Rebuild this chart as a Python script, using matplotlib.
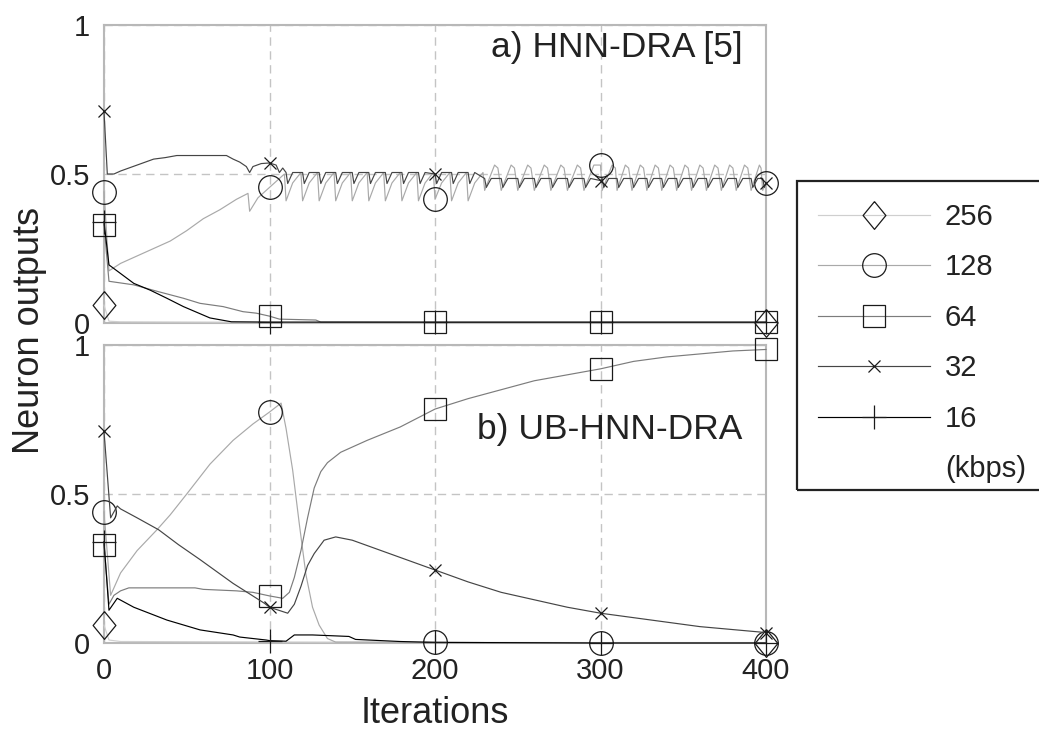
import matplotlib
matplotlib.use("Agg")
import matplotlib.pyplot as plt
from matplotlib.lines import Line2D
from matplotlib.patches import Rectangle

plt.rcParams['font.family'] = ['Liberation Sans', 'DejaVu Sans']

# ---------------- data ----------------
series_labels = ['256', '128', '64', '32', '16']
x_ticks = [0, 100, 200, 300, 400]
y_ticks = [0, 0.5, 1]
y_ticklabels = ['0', '0.5', '1']
panel_titles = ['a) HNN-DRA [5]', 'b) UB-HNN-DRA']

# ---- panel a) HNN-DRA ----
a256_x = [0, 3, 10, 60, 130, 400]
a256_y = [0.06, 0.006, 0.004, 0.003, 0.001, 0.0]

a128_x = [0, 3, 10, 20, 30, 40, 50, 60, 70, 80, 87, 88, 93, 100, 105, 109,
          110, 114, 119, 120, 124, 129, 130, 134, 139, 140, 144, 149,
          150, 154, 159, 160, 164, 169, 170, 174, 179, 180, 184, 189,
          190, 194, 199, 200, 204, 209, 210, 214, 219, 220, 224, 229,
          230, 236, 238, 240, 246, 248, 250, 256, 258, 260, 266, 268,
          270, 276, 278, 280, 286, 288, 290, 296, 300,
          301, 307, 309, 310, 315, 317, 319, 324, 326, 328, 333, 335,
          337, 342, 344, 346, 351, 353, 355, 360, 362, 364, 369, 371,
          373, 378, 380, 382, 387, 389, 391, 396, 397, 398, 400]
a128_y = [0.44, 0.175, 0.20, 0.225, 0.25, 0.275, 0.31, 0.35, 0.38, 0.415, 0.435, 0.375, 0.42, 0.455, 0.48, 0.50,
          0.41, 0.47, 0.505, 0.41, 0.47, 0.505, 0.41, 0.47, 0.505, 0.41, 0.47, 0.505,
          0.41, 0.47, 0.505, 0.41, 0.47, 0.505, 0.41, 0.47, 0.505, 0.41, 0.47, 0.505,
          0.41, 0.47, 0.505, 0.415, 0.47, 0.505, 0.41, 0.47, 0.505, 0.41, 0.47, 0.505,
          0.445, 0.53, 0.52, 0.445, 0.53, 0.52, 0.445, 0.53, 0.52, 0.445, 0.53, 0.52,
          0.445, 0.53, 0.52, 0.445, 0.53, 0.52, 0.445, 0.53, 0.53,
          0.445, 0.53, 0.52, 0.445, 0.53, 0.52, 0.445, 0.53, 0.52, 0.445, 0.53, 0.52,
          0.445, 0.53, 0.52, 0.445, 0.53, 0.52, 0.445, 0.53, 0.52, 0.445, 0.53, 0.52,
          0.445, 0.53, 0.52, 0.445, 0.53, 0.52, 0.445, 0.53, 0.52, 0.445, 0.47]

a64_x = [0, 3, 18, 33, 48, 58, 72, 84, 92, 100, 106, 128, 131, 200, 300, 400]
a64_y = [0.33, 0.14, 0.128, 0.105, 0.083, 0.066, 0.055, 0.038, 0.033, 0.023, 0.013, 0.01, 0.003, 0.002, 0.002, 0.002]

a32_x = [0, 2, 6, 10, 15, 20, 25, 30, 37, 44, 74, 78, 82, 86, 88, 90, 95, 100, 104, 106, 108,
         110, 111, 114, 120, 121, 124, 130, 131, 134, 140, 141, 144,
         150, 151, 154, 160, 161, 164, 170, 171, 174, 180, 181, 184,
         190, 191, 194, 200, 201, 204, 210, 211, 214, 220, 221, 224,
         230, 231, 234, 240, 241, 244, 250, 251, 254, 260, 261, 264,
         270, 271, 274, 280, 281, 284, 290, 291, 294, 300,
         301, 302, 305, 310, 311, 314, 319, 320, 323, 328, 329, 332,
         337, 338, 341, 346, 347, 350, 355, 356, 359, 364, 365, 368,
         373, 374, 377, 382, 383, 386, 391, 392, 395, 398, 399, 400]
a32_y = [0.71, 0.50, 0.50, 0.51, 0.52, 0.53, 0.54, 0.55, 0.555, 0.562, 0.562, 0.55, 0.54, 0.525, 0.505, 0.525, 0.535, 0.537, 0.53, 0.505, 0.52,
         0.505, 0.468, 0.505, 0.505, 0.468, 0.505, 0.505, 0.468, 0.505, 0.505, 0.468, 0.505,
         0.505, 0.468, 0.505, 0.505, 0.468, 0.505, 0.505, 0.468, 0.505, 0.505, 0.468, 0.505,
         0.505, 0.468, 0.505, 0.50, 0.468, 0.505, 0.505, 0.468, 0.505, 0.505, 0.468, 0.505,
         0.485, 0.455, 0.485, 0.485, 0.455, 0.485, 0.485, 0.455, 0.485, 0.485, 0.455, 0.485,
         0.485, 0.455, 0.485, 0.485, 0.455, 0.485, 0.485, 0.455, 0.485, 0.478,
         0.485, 0.455, 0.485, 0.485, 0.455, 0.485, 0.485, 0.455, 0.485, 0.485, 0.455, 0.485,
         0.485, 0.455, 0.485, 0.485, 0.455, 0.485, 0.485, 0.455, 0.485, 0.485, 0.455, 0.485,
         0.485, 0.455, 0.485, 0.485, 0.455, 0.485, 0.485, 0.455, 0.485, 0.485, 0.455, 0.47]

a16_x = [0, 3, 18, 28, 38, 48, 64, 77, 100, 200, 300, 400]
a16_y = [0.34, 0.195, 0.133, 0.11, 0.083, 0.055, 0.017, 0.004, 0.003, 0.003, 0.003, 0.003]

# ---- panel b) UB-HNN-DRA ----
b256_x = [0, 3, 10, 130, 400]
b256_y = [0.06, 0.01, 0.005, 0.003, 0.0]

b128_x = [0, 4, 10, 20, 32, 40, 50, 64, 78, 90, 100, 107, 110, 114, 118, 122, 126, 130, 135, 140, 200, 300, 400]
b128_y = [0.44, 0.16, 0.235, 0.31, 0.38, 0.43, 0.50, 0.60, 0.68, 0.735, 0.775, 0.805, 0.72, 0.58, 0.40, 0.23, 0.12, 0.06, 0.015, 0.003, 0.002, 0.0, 0.0]

b64_x = [0, 3, 6, 10, 15, 55, 60, 80, 90, 100, 108, 112, 115, 119, 123, 127, 131, 135, 143, 159, 179, 200,
         220, 240, 260, 280, 300, 320, 340, 360, 380, 400]
b64_y = [0.33, 0.13, 0.16, 0.175, 0.185, 0.185, 0.18, 0.175, 0.17, 0.158, 0.15, 0.17, 0.22, 0.31, 0.42, 0.52, 0.575, 0.605, 0.64, 0.68, 0.725, 0.785,
         0.82, 0.85, 0.88, 0.90, 0.92, 0.945, 0.96, 0.97, 0.98, 0.985]

b32_x = [0, 4, 8, 10, 20, 33, 45, 58, 78, 97, 100, 111, 115, 119, 123, 127, 133, 140, 150, 160, 170, 180, 190, 200,
         220, 240, 260, 280, 300, 320, 340, 360, 380, 400]
b32_y = [0.71, 0.42, 0.46, 0.45, 0.42, 0.38, 0.33, 0.28, 0.20, 0.133, 0.12, 0.10, 0.13, 0.19, 0.26, 0.30, 0.345, 0.356, 0.345, 0.325, 0.305, 0.285, 0.265, 0.245,
         0.205, 0.17, 0.145, 0.12, 0.10, 0.085, 0.07, 0.055, 0.045, 0.035]

b16_x = [0, 3, 8, 18, 38, 58, 78, 82, 98, 100, 110, 115, 126, 148, 152, 179, 200, 300, 400]
b16_y = [0.34, 0.11, 0.15, 0.12, 0.077, 0.044, 0.027, 0.02, 0.01, 0.008, 0.006, 0.027, 0.027, 0.022, 0.012, 0.005, 0.002, 0.0, 0.0]

panel_a = [(a256_x, a256_y), (a128_x, a128_y), (a64_x, a64_y), (a32_x, a32_y), (a16_x, a16_y)]
panel_b = [(b256_x, b256_y), (b128_x, b128_y), (b64_x, b64_y), (b32_x, b32_y), (b16_x, b16_y)]

# ---------------- styles ----------------
line_colors = ['#cfcfcf', '#a9a9a9', '#7c7c7c', '#454545', '#000000']
diamond = [(0, 1), (0.82, 0), (0, -1), (-0.82, 0), (0, 1)]
markers = [diamond, 'o', 's', 'x', '+']
msizes = [20, 17, 16.5, 9, 17]
mcolor = '#1a1a1a'

W, H = 1039, 736
fig = plt.figure(figsize=(W / 100, H / 100), dpi=100)
ax_a = fig.add_axes([104 / W, 1 - 323 / H, 662 / W, 298 / H])
ax_b = fig.add_axes([104 / W, 1 - 643 / H, 662 / W, 298 / H])

for ax, data, title, ty in [(ax_a, panel_a, panel_titles[0], 0.925),
                             (ax_b, panel_b, panel_titles[1], 0.715)]:
    for (xs, ys), c, m, ms in zip(data, line_colors, markers, msizes):
        idx = [i for i, v in enumerate(xs) if v in x_ticks]
        ax.plot(xs, ys, color=c, lw=0.85, marker=m, ms=ms, markevery=idx,
                mfc='none', mec=mcolor, mew=0.9, clip_on=False, zorder=3)
    ax.set_xlim(0, 400)
    ax.set_ylim(0, 1)
    ax.set_xticks(x_ticks)
    ax.set_yticks(y_ticks)
    ax.set_yticklabels(y_ticklabels)
    ax.tick_params(length=0, labelsize=21, colors='#222222', pad=10)
    ax.grid(True, ls=(0, (6, 4)), color='#c4c4c4', lw=1.0, zorder=0)
    for s in ax.spines.values():
        s.set_color('#b8b8b8')
        s.set_linewidth(1.5)
    ax.text(386, ty, title, fontsize=25.5, ha='right', va='center', color='#222222')

ax_a.tick_params(labelbottom=False)
ax_b.set_xlabel('Iterations', fontsize=26, color='#222222', labelpad=8)
fig.text(30 / W, 1 - 330 / H, 'Neuron outputs', rotation=90, fontsize=26,
         ha='center', va='center', color='#222222')

# legend
fig.patches.append(Rectangle((797 / W, 1 - 490 / H), 0.3, 309 / H, transform=fig.transFigure,
                             fill=False, ec='#222222', lw=1.6, zorder=5))
handles = [Line2D([], [], color=c, lw=0.85, marker=m, ms=ms, mfc='none', mec=mcolor, mew=0.9)
           for c, m, ms in zip(line_colors, markers, msizes)]
handles.append(Line2D([], [], color='none'))
leg = fig.legend(handles, series_labels + ['(kbps)'], loc='upper left',
                 bbox_to_anchor=(818 / W, 1 - 203 / H), frameon=False, fontsize=21,
                 handlelength=3.85, handletextpad=0.5, labelspacing=0.77,
                 borderpad=0, borderaxespad=0)
for t in leg.get_texts():
    t.set_color('#222222')

fig.savefig('out.png', dpi=100)
